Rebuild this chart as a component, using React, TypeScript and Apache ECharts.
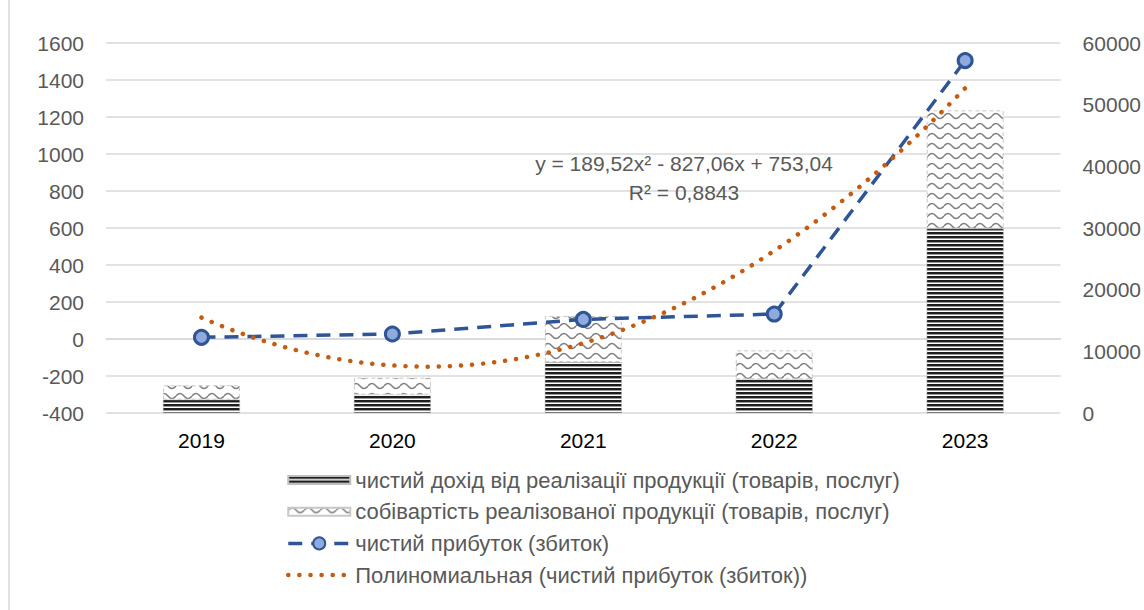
import React, { useEffect, useRef } from 'react';
import * as echarts from 'echarts';

// ---- data ----
const years = ['2019', '2020', '2021', '2022', '2023'];
const revenue = [2170, 2970, 8270, 5460, 29900]; // right axis
const cost = [2320, 2760, 7460, 4700, 19180]; // right axis, stacked on revenue
const profit = [9, 27, 106, 135, 1505]; // left axis
const seriesNames = [
  'чистий дохід від реалізації продукції (товарів, послуг)',
  'собівартість реалізованої продукції (товарів, послуг)',
  'чистий прибуток (збиток)',
  'Полиномиальная (чистий прибуток (збиток))',
];
const trendText = ['y = 189,52x² - 827,06x + 753,04', 'R² = 0,8843'];
const leftAxis = { min: -400, max: 1600, interval: 200 };
const rightAxis = { min: 0, max: 60000, interval: 10000 };

const FONT = '"Liberation Sans", Arial, sans-serif';

// least-squares quadratic fit (like Excel's polynomial trendline, order 2)
function quadFit(ys: number[]) {
  const n = ys.length;
  const S = [0, 0, 0, 0, 0];
  const T = [0, 0, 0];
  for (let i = 0; i < n; i++) {
    const x = i + 1;
    for (let k = 0; k < 5; k++) S[k] += Math.pow(x, k);
    for (let k = 0; k < 3; k++) T[k] += ys[i] * Math.pow(x, k);
  }
  const M = [
    [S[0], S[1], S[2]],
    [S[1], S[2], S[3]],
    [S[2], S[3], S[4]],
  ];
  const det = (m: number[][]) =>
    m[0][0] * (m[1][1] * m[2][2] - m[1][2] * m[2][1]) -
    m[0][1] * (m[1][0] * m[2][2] - m[1][2] * m[2][0]) +
    m[0][2] * (m[1][0] * m[2][1] - m[1][1] * m[2][0]);
  const D = det(M);
  const sol = [0, 1, 2].map((col) => {
    const m = M.map((row, r) => row.map((v, c) => (c === col ? T[r] : v)));
    return det(m) / D;
  });
  return { c: sol[0], b: sol[1], a: sol[2] };
}

function makeTile(w: number, h: number, draw: (ctx: CanvasRenderingContext2D) => void) {
  const cv = document.createElement('canvas');
  cv.width = w;
  cv.height = h;
  const ctx = cv.getContext('2d')!;
  draw(ctx);
  return { image: cv.toDataURL(), imageWidth: w, imageHeight: h, repeat: 'repeat' };
}

export default function App() {
  const ref = useRef<HTMLDivElement>(null);
  useEffect(() => {
    if (!ref.current) return;
    const chart = echarts.init(ref.current, null, { renderer: 'svg' });

    const stripes = makeTile(4, 4, (ctx) => {
      ctx.fillStyle = '#ffffff';
      ctx.fillRect(0, 0, 4, 4);
      ctx.fillStyle = '#1e1e1e';
      ctx.fillRect(0, 0, 4, 2);
      ctx.fillStyle = '#9a9a9a';
      ctx.fillRect(0, 2, 4, 1);
    });
    const waves = makeTile(16, 10, (ctx) => {
      ctx.fillStyle = '#ffffff';
      ctx.fillRect(0, 0, 16, 10);
      ctx.strokeStyle = '#808080';
      ctx.lineWidth = 1.6;
      ctx.beginPath();
      ctx.moveTo(0, 6);
      ctx.quadraticCurveTo(4, 1, 8, 6);
      ctx.quadraticCurveTo(12, 11, 16, 6);
      ctx.stroke();
    });

    const fit = quadFit(profit);
    const trendData: number[][] = [];
    for (let i = 0; i <= 80; i++) {
      const x = 1 + (i * 4) / 80;
      trendData.push([x, fit.a * x * x + fit.b * x + fit.c]);
    }

    const barIcon = 'path://M0 0H62V8H0Z';

    chart.setOption({
      animation: false,
      backgroundColor: '#ffffff',
      grid: { left: 106, right: 82, top: 43, bottom: 197 },
      xAxis: [
        {
          type: 'category',
          data: years,
          boundaryGap: true,
          axisLine: { show: true, lineStyle: { color: '#d9d9d9', width: 1.5 } },
          axisTick: { show: false },
          axisLabel: { color: '#000000', fontSize: 21, fontFamily: FONT, margin: 17 },
        },
        { type: 'value', min: 0.5, max: 5.5, show: false },
      ],
      yAxis: [
        {
          type: 'value',
          min: leftAxis.min,
          max: leftAxis.max,
          interval: leftAxis.interval,
          axisLine: { show: false },
          axisTick: { show: false },
          splitLine: { lineStyle: { color: '#d9d9d9', width: 1.5 } },
          axisLabel: {
            color: '#595959',
            fontSize: 21,
            fontFamily: FONT,
            margin: 22,
            formatter: (v: number) => String(v),
          },
        },
        {
          type: 'value',
          min: rightAxis.min,
          max: rightAxis.max,
          interval: rightAxis.interval,
          position: 'right',
          axisLine: { show: false },
          axisTick: { show: false },
          splitLine: { show: false },
          axisLabel: {
            color: '#595959',
            fontSize: 21,
            fontFamily: FONT,
            margin: 22,
            formatter: (v: number) => String(v),
          },
        },
      ],
      legend: {
        orient: 'vertical',
        left: 281,
        top: 464,
        itemWidth: 62,
        itemHeight: 15,
        itemGap: 9.7,
        symbolKeepAspect: true,
        textStyle: { color: '#595959', fontSize: 22, fontFamily: FONT, lineHeight: 21 },
        data: [
          { name: seriesNames[0], icon: barIcon },
          { name: seriesNames[1], icon: barIcon },
          { name: seriesNames[2], lineStyle: { width: 3.5 } },
          {
            name: seriesNames[3],
            itemStyle: { color: 'rgba(0,0,0,0)', borderWidth: 0 },
            lineStyle: { width: 4.5 },
          },
        ],
      },
      graphic: [
        {
          type: 'line',
          shape: { x1: 9, y1: 0, x2: 9, y2: 610 },
          style: { stroke: '#d9d9d9', lineWidth: 1.5 },
        },
        {
          type: 'text',
          x: 684,
          y: 163,
          z: 100,
          style: {
            text: trendText[0],
            fill: '#595959',
            fontSize: 21,
            fontFamily: FONT,
            textAlign: 'center',
            textVerticalAlign: 'middle',
          },
        },
        {
          type: 'text',
          x: 684,
          y: 192,
          z: 100,
          style: {
            text: trendText[1],
            fill: '#595959',
            fontSize: 21,
            fontFamily: FONT,
            textAlign: 'center',
            textVerticalAlign: 'middle',
          },
        },
      ],
      series: [
        {
          name: seriesNames[0],
          type: 'bar',
          yAxisIndex: 1,
          stack: 'total',
          barWidth: 77,
          data: revenue,
          itemStyle: { color: stripes, borderColor: '#bfbfbf', borderWidth: 0.5 },
        },
        {
          name: seriesNames[1],
          type: 'bar',
          yAxisIndex: 1,
          stack: 'total',
          barWidth: 77,
          data: cost,
          itemStyle: { color: waves, borderColor: '#c8c8c8', borderWidth: 1, borderType: [4, 3] },
        },
        {
          name: seriesNames[2],
          type: 'line',
          yAxisIndex: 0,
          data: profit,
          symbol: 'circle',
          symbolSize: 14,
          lineStyle: { color: '#2F5597', width: 3.5, type: [14, 9] },
          itemStyle: { color: '#8FAADC', borderColor: '#2F5597', borderWidth: 3 },
          z: 3,
        },
        {
          name: seriesNames[3],
          type: 'line',
          xAxisIndex: 1,
          yAxisIndex: 0,
          data: trendData,
          symbol: 'none',
          lineStyle: { color: '#C55A11', width: 4.5, type: [0.1, 11], cap: 'round' },
          itemStyle: { color: '#C55A11' },
          z: 4,
        },
      ],
    });
    return () => chart.dispose();
  }, []);

  return (
    <div
      ref={ref}
      style={{ position: 'fixed', left: 0, top: 0, width: 1144, height: 610, background: '#fff' }}
    />
  );
}
